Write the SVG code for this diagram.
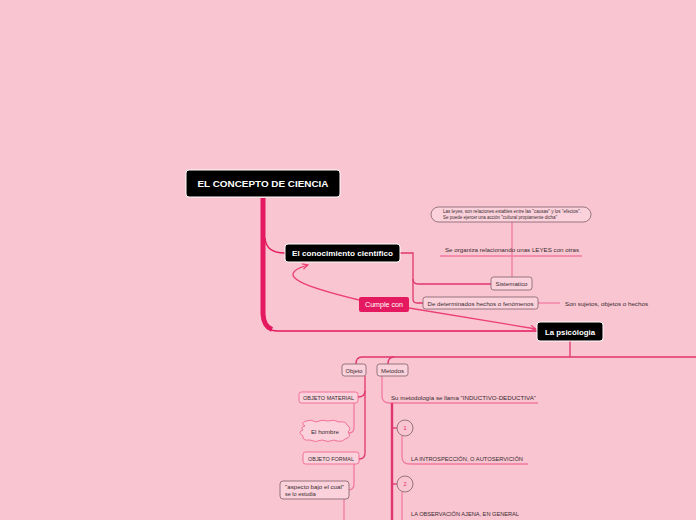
<svg xmlns="http://www.w3.org/2000/svg" width="696" height="520" viewBox="0 0 696 520">
<defs>
<style>
.t{font-family:"Liberation Sans",Arial,sans-serif;}
.dark{fill:#000;stroke:#fff;stroke-width:1;}
.wb{fill:#fff;font-weight:bold;}
.box{fill:#fbd2dc;stroke:#8a6a74;stroke-width:0.9;}
.pbox{fill:#fbd2dc;stroke:#f06592;stroke-width:0.9;}
.s{fill:#3a2a30;font-size:5.5px;}
.c{fill:none;stroke:#e0356e;stroke-width:1.3;}
.cl{fill:none;stroke:#f27aa3;stroke-width:1.3;}
</style>
<marker id="ah" viewBox="0 0 10 10" refX="9" refY="5" markerWidth="7" markerHeight="7" orient="auto" markerUnits="userSpaceOnUse">
<path d="M1,1 L9,5 L1,9" fill="none" stroke="#ec3f77" stroke-width="1.6"/>
</marker>
</defs>
<rect width="696" height="520" fill="#f9c5d1"/>
<g id="connectors">
<path d="M263,318 Q263,331 278,331 H537" fill="none" stroke="#e5195f" stroke-width="1.4"/>
<path d="M263,198 V314 Q263.5,326 272,329.5" fill="none" stroke="#e5195f" stroke-width="5"/>
<path d="M265,238 Q266,253 285,253" fill="none" stroke="#e5195f" stroke-width="1.4"/>
<path class="c" d="M400,253 H413 V299 Q413,303 417,303 H423"/>
<path class="c" d="M413,279 Q413,284 418,284 H491"/>
<path class="cl" d="M512,222 V256 M440,256 H582 M512,256 V277"/>
<path class="cl" d="M538,303 H560"/>
<path d="M359,300 C310,288 270,276 308,265" fill="none" stroke="#ec3f77" stroke-width="1.3" marker-end="url(#ah)"/>
<path d="M409,308 L536,329" fill="none" stroke="#ec3f77" stroke-width="1.3" marker-end="url(#ah)"/>
<path class="c" d="M570,341 V357 M696,357 H362 Q356,357 356,364"/>
<path class="c" d="M394,357 Q388,357 388,364"/>
<path class="c" d="M365,376 V453 Q365,459 359,459"/>
<path class="c" d="M365,391 Q365,397 358,397"/>
<path class="cl" d="M354,403 V427 Q354,433 349,433"/>
<path class="cl" d="M354,464 V484 Q354,490 348,490"/>
<path class="cl" d="M344,499 V520"/>
<path class="cl" d="M382,376 V396 Q382,403 390,403 H538"/>
<path d="M392,403 V520" fill="none" stroke="#e0356e" stroke-width="2.4"/>
<path class="c" d="M392,428 Q394,428 397,428"/>
<path class="c" d="M392,484 Q394,484 397,484"/>
<path class="cl" d="M402,436 V457 Q402,464 410,464 H528"/>
<path class="cl" d="M402,492 V520"/>
</g>
<g id="n-ciencia" class="t">
<rect class="dark" x="186" y="170" width="154" height="27" rx="3"/>
<text class="wb" x="263" y="187" text-anchor="middle" font-size="8.5" textLength="131" lengthAdjust="spacingAndGlyphs">EL CONCEPTO DE CIENCIA</text>
</g>
<g id="n-conocimiento" class="t">
<rect class="dark" x="285" y="244" width="115" height="18" rx="3"/>
<text class="wb" x="342.5" y="256" text-anchor="middle" font-size="7.5" textLength="101" lengthAdjust="spacingAndGlyphs">El conocimiento científico</text>
</g>
<g id="n-leyes" class="t">
<rect class="box" x="431" y="207" width="160" height="15" rx="7.5"/>
<text class="s" x="443" y="213" font-size="4.3" textLength="138" lengthAdjust="spacingAndGlyphs">Las leyes, son relaciones estables entre las "causas" y los "efectos".</text>
<text class="s" x="443" y="219" font-size="4.3" textLength="114" lengthAdjust="spacingAndGlyphs">Se puede ejercer una acción "cultural propiamente dicha"</text>
</g>
<g id="n-organiza" class="t">
<text class="s" x="445" y="252" font-size="6" textLength="134" lengthAdjust="spacingAndGlyphs">Se organiza relacionando unas LEYES  con otras</text>
</g>
<g id="n-sistematico" class="t">
<rect class="box" x="491" y="277" width="41" height="13" rx="2.5"/>
<text class="s" x="511.5" y="286" text-anchor="middle" textLength="32" lengthAdjust="spacingAndGlyphs">Sistematico</text>
</g>
<g id="n-determinados" class="t">
<rect class="box" x="423" y="297" width="115" height="12" rx="2.5"/>
<text class="s" x="480.5" y="305.5" text-anchor="middle" textLength="106" lengthAdjust="spacingAndGlyphs">De determinados hechos o fenómenos</text>
</g>
<g id="n-sujetos" class="t">
<text class="s" x="565" y="306" textLength="83" lengthAdjust="spacingAndGlyphs">Son sujetos, objetos o hechos</text>
</g>
<g id="n-cumple" class="t">
<rect x="359" y="297" width="50" height="15" rx="2" fill="#e5195f"/>
<text x="384" y="307" text-anchor="middle" fill="#fff" font-size="7" textLength="38" lengthAdjust="spacingAndGlyphs">Cumple con</text>
</g>
<g id="n-psicologia" class="t">
<rect class="dark" x="537" y="322" width="66" height="19" rx="3"/>
<text class="wb" x="570" y="334.5" text-anchor="middle" font-size="7.5" textLength="50" lengthAdjust="spacingAndGlyphs">La psicólogia</text>
</g>
<g id="n-objeto" class="t">
<rect class="box" x="342" y="364" width="24" height="12" rx="2.5"/>
<text class="s" x="354" y="372.5" text-anchor="middle" textLength="17" lengthAdjust="spacingAndGlyphs">Objeto</text>
</g>
<g id="n-metodos" class="t">
<rect class="box" x="377" y="364" width="31" height="12" rx="2.5"/>
<text class="s" x="392.5" y="372.5" text-anchor="middle" textLength="23" lengthAdjust="spacingAndGlyphs">Metodos</text>
</g>
<g id="n-material" class="t">
<rect class="pbox" x="299" y="392" width="59" height="11" rx="2.5"/>
<text class="s" x="328.5" y="400" text-anchor="middle" textLength="51" lengthAdjust="spacingAndGlyphs">OBJETO MATERIAL</text>
</g>
<g id="n-hombre" class="t">
<path class="pbox" d="M305,426 Q300,423 306,421 Q312,419 316,422 Q322,419 328,421 Q334,419 339,422 Q346,421 347,425 Q352,428 348,432 Q352,437 345,439 Q341,443 334,440 Q328,443 322,440 Q315,443 310,440 Q302,441 303,436 Q297,432 303,430 Q300,427 305,426 Z"/>
<text class="s" x="325" y="434" text-anchor="middle" textLength="28" lengthAdjust="spacingAndGlyphs">El hombre</text>
</g>
<g id="n-formal" class="t">
<rect class="pbox" x="303" y="452" width="56" height="12" rx="2.5"/>
<text class="s" x="331" y="460.5" text-anchor="middle" textLength="46" lengthAdjust="spacingAndGlyphs">OBJETO FORMAL</text>
</g>
<g id="n-aspecto" class="t">
<rect class="box" x="280" y="481" width="69" height="18" rx="3"/>
<text class="s" x="285" y="488.5" textLength="59" lengthAdjust="spacingAndGlyphs">"aspecto bajo el cual"</text>
<text class="s" x="285" y="496">  se lo estudia</text>
</g>
<g id="n-metodologia" class="t">
<text class="s" x="391" y="400" textLength="145" lengthAdjust="spacingAndGlyphs">Su metodología se llama "INDUCTIVO-DEDUCTIVA"</text>
</g>
<g id="n-1" class="t">
<circle cx="405" cy="428" r="8" fill="#f9c5d1" stroke="#8a6a74" stroke-width="0.9"/>
<text x="405" y="430" text-anchor="middle" fill="#e5195f" font-size="5.5">1</text>
</g>
<g id="n-introspeccion" class="t">
<text class="s" x="411" y="461" textLength="112" lengthAdjust="spacingAndGlyphs">LA INTROSPECCIÓN, O AUTOSERVICIÓN</text>
</g>
<g id="n-2" class="t">
<circle cx="405" cy="484" r="8" fill="#f9c5d1" stroke="#8a6a74" stroke-width="0.9"/>
<text x="405" y="486" text-anchor="middle" fill="#e5195f" font-size="5.5">2</text>
</g>
<g id="n-observacion" class="t">
<text class="s" x="411" y="516" textLength="108" lengthAdjust="spacingAndGlyphs">LA OBSERVACIÓN AJENA, EN GENERAL</text>
</g>
</svg>
